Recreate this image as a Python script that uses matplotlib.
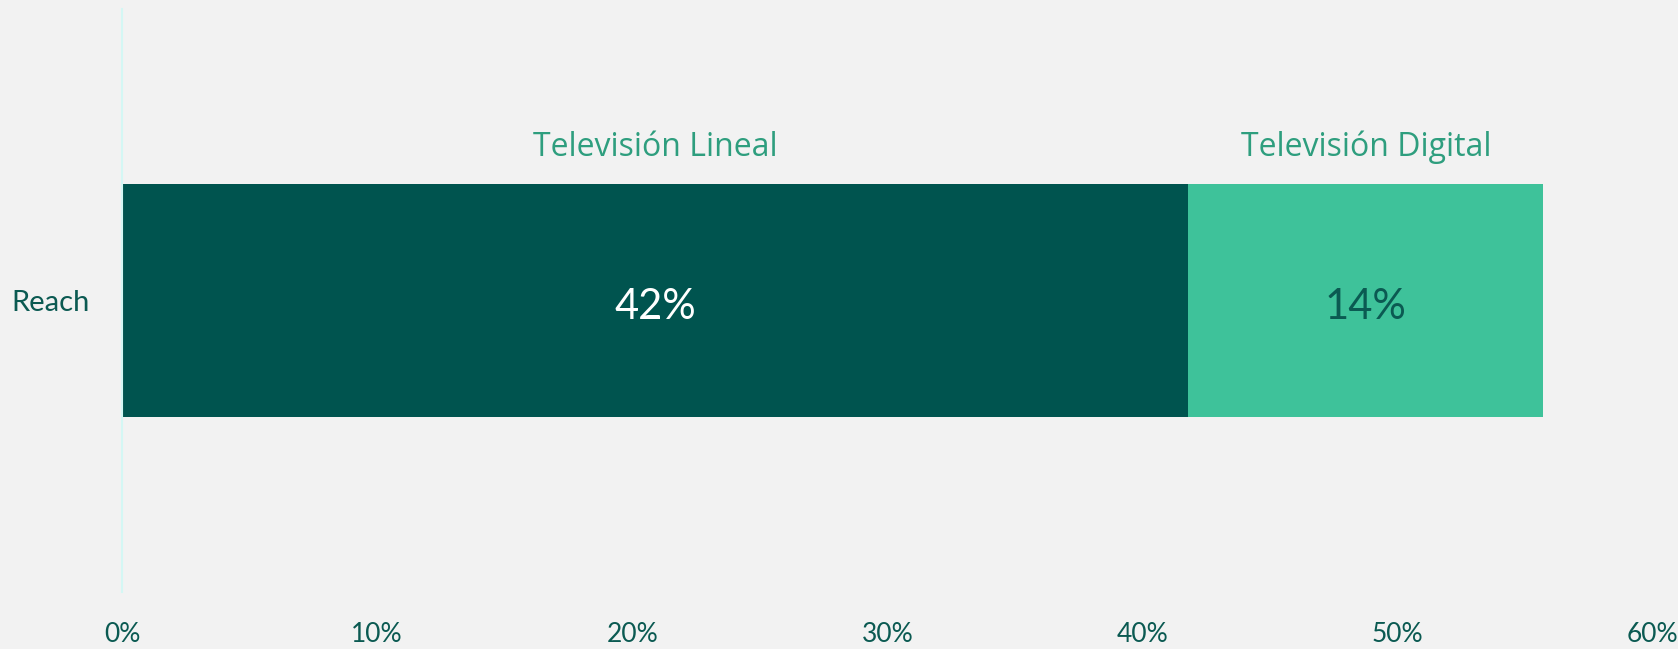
import numpy as np
import matplotlib.pyplot as plt
from matplotlib.ticker import FuncFormatter

# datos del gráfico
categories = ['Reach']
series = ['Televisión Lineal', 'Televisión Digital']
values = [41.8, 13.9]
bar_colors = ['#00544F', '#3EC29A']
value_colors = ['#FFFFFF', '#0B5A52']

bg = '#F2F2F2'
dark = '#0B5A52'
label_green = '#2E9E7E'

plt.rcParams['font.family'] = ['Lato', 'DejaVu Sans']

fig = plt.figure(figsize=(16.78, 6.49), dpi=100, facecolor=bg)
ax = fig.add_axes([0.0727, 0.088, 0.9123, 0.898])
ax.set_facecolor(bg)

left = 0
for name, v, c, tc in zip(series, values, bar_colors, value_colors):
    ax.barh(0, v, left=left, height=0.4, color=c, edgecolor='none')
    ax.text(left + v / 2, -0.012, f'{v:.0f}%', ha='center', va='center',
            fontsize=30, color=tc)
    ax.text(left + v / 2, 0.248, name, ha='center', va='baseline',
            fontsize=23, color=label_green, family=['Open Sans', 'DejaVu Sans'])
    left += v

ax.set_xlim(0, 60)
ax.set_ylim(-0.5, 0.5)
ax.set_xticks(np.arange(0, 61, 10))
ax.xaxis.set_major_formatter(FuncFormatter(lambda x, p: f'{x:.0f}%'))
ax.set_yticks([0])
ax.set_yticklabels(categories)
ax.tick_params(axis='both', length=0, labelsize=19, colors=dark)
ax.tick_params(axis='x', pad=22)
ax.tick_params(axis='y', pad=23, labelsize=21)

for s in ['top', 'right', 'bottom']:
    ax.spines[s].set_visible(False)
ax.spines['left'].set_color('#D4F7F4')
ax.spines['left'].set_linewidth(1.5)

fig.savefig('out.png', dpi=100, facecolor=bg)
